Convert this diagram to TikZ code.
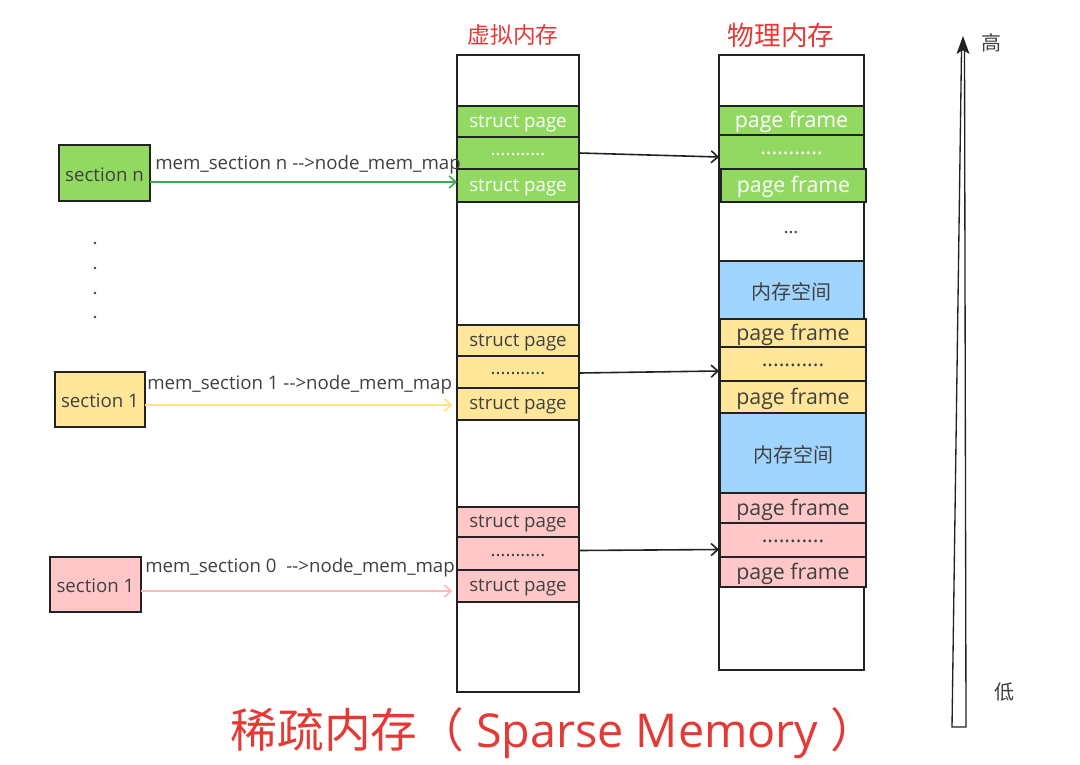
\documentclass[tikz,border=0pt]{standalone}
\usepackage{fontspec}
\setmainfont{Open Sans}
\newfontfamily\cjk{Noto Sans CJK SC}
\usetikzlibrary{arrows.meta,calc}
\definecolor{gfill}{RGB}{146,217,98}
\definecolor{yfill}{RGB}{255,230,153}
\definecolor{pfill}{RGB}{255,199,199}
\definecolor{bfill}{RGB}{160,213,255}
\definecolor{txt}{RGB}{64,64,64}
\definecolor{redt}{RGB}{229,57,53}
\definecolor{garrow}{RGB}{60,170,80}
\definecolor{yarrow}{RGB}{255,226,130}
\definecolor{parrow}{RGB}{255,185,185}
\definecolor{edge}{RGB}{34,34,34}
\tikzset{
  cell/.style={draw=edge, line width=1.3pt, inner sep=0pt, outer sep=0pt, anchor=north west, text=txt, font=\fontsize{14}{16}\selectfont},
  green/.style={fill=gfill, text=white},
  yellow/.style={fill=yfill},
  pink/.style={fill=pfill},
  blue/.style={fill=bfill, font=\cjk\fontsize{15}{18}\selectfont},
  empty/.style={fill=white},
  frame/.style={font=\fontsize{16}{18}\selectfont},
  lab/.style={anchor=west, inner sep=0pt, text=txt, font=\fontsize{14}{16}\selectfont},
  title/.style={text=redt, font=\cjk\fontsize{17}{20}\selectfont},
  maparrow/.style={line width=1.2pt, -{Straight Barb[length=5pt,width=9pt]}},
  blackarrow/.style={draw=edge, line width=1.2pt, -{Straight Barb[length=5pt,width=9pt]}},
  dotn/.style={circle, fill=txt, inner sep=0pt, minimum size=2.2pt}
}
\newcommand\cellbox[7]{\node[cell,#6,minimum width={#4*0.75pt},minimum height={#5*0.75pt}] (#1) at (#2,#3) {\raisebox{-1.2pt}[\height][\depth]{#7}};}
\begin{document}
\begin{tikzpicture}[x=0.75pt,y=-0.75pt]
\useasboundingbox (0,0) rectangle (1080,764);
\fill[white] (0,0) rectangle (1080,764);

% titles
\node[title] (vt) at (513,35) {虚拟内存};
\node[title, font=\cjk\fontsize{20}{22}\selectfont] (pt) at (781,35) {物理内存};

% virtual memory column
\cellbox{vcol}{457}{55}{122}{637}{empty}{}
\cellbox{vg1}{457}{106}{122}{31}{green}{struct page}
\cellbox{vg2}{457}{137}{122}{32}{green}{...........}
\cellbox{vg3}{457}{169}{122}{33}{green}{struct page}
\cellbox{vy1}{457}{325}{122}{31}{yellow}{struct page}
\cellbox{vy2}{457}{356}{122}{32}{yellow}{...........}
\cellbox{vy3}{457}{388}{122}{32}{yellow}{struct page}
\cellbox{vp1}{457}{507}{122}{30}{pink}{struct page}
\cellbox{vp2}{457}{537}{122}{33}{pink}{...........}
\cellbox{vp3}{457}{570}{122}{32}{pink}{struct page}

% physical memory column
\cellbox{pcol}{719}{55}{145}{615}{empty}{}
\cellbox{pg1}{719}{106}{145}{29}{green,frame}{page frame}
\cellbox{pg2}{719}{135}{145}{34}{green,frame}{...........}
\cellbox{pg3}{721}{169}{145}{33}{green,frame}{page frame}
\node[text=txt, font=\fontsize{14}{16}\selectfont] (pdots) at (791,233) {...};
\cellbox{pb1}{719}{261}{145}{58}{blue}{内存空间}
\cellbox{py1}{720}{319}{146}{28}{yellow,frame}{page frame}
\cellbox{py2}{720}{347}{146}{34}{yellow,frame}{...........}
\cellbox{py3}{720}{381}{146}{32}{yellow,frame}{page frame}
\cellbox{pb2}{720}{413}{146}{80}{blue}{内存空间}
\cellbox{pp1}{720}{493}{146}{30}{pink,frame}{page frame}
\cellbox{pp2}{720}{523}{146}{34}{pink,frame}{...........}
\cellbox{pp3}{720}{557}{146}{30}{pink,frame}{page frame}

% sections
\cellbox{secn}{59}{145}{91}{56}{fill=gfill}{section n}
\cellbox{secy}{55}{372}{90}{55}{yellow}{section 1}
\cellbox{secp}{50}{557}{91}{55}{pink}{section 1}

% vertical dots
\node[dotn] (d1) at (95,243) {};
\node[dotn] (d2) at (95,268) {};
\node[dotn] (d3) at (95,293) {};
\node[dotn] (d4) at (95,317) {};

% labels
\node[lab] (ln) at (155,165) {mem\_section n -{}->node\_mem\_map};
\node[lab] (ly) at (147,385) {mem\_section 1 -{}->node\_mem\_map};
\node[lab] (lp) at (145,568) {mem\_section 0 \ -{}->node\_mem\_map};

% section arrows
\coordinate (gs) at ($(secn.east)+(0,9)$);
\coordinate (ys) at ($(secy.east)+(0,5.5)$);
\coordinate (ps) at ($(secp.east)+(0,6.5)$);
\draw[maparrow, draw=garrow] (gs) -- (gs -| vg3.west);
\draw[maparrow, draw=yarrow, shorten >=3.5pt] (ys) -- (ys -| vy3.west);
\draw[maparrow, draw=parrow, shorten >=3.5pt] (ps) -- (ps -| vp3.west);

% mapping arrows
\coordinate (t1) at (vg2.east -| pcol.west);
\coordinate (t2) at (vy2.east -| pcol.west);
\coordinate (s3) at ($(vp2.east)+(0,-3)$);
\coordinate (t3) at (s3 -| pcol.west);
\draw[blackarrow] (vg2.east) -- ($(t1)+(0,4)$);
\draw[blackarrow] ($(vy2.east)+(0,1)$) -- ($(t2)+(0,-1)$);
\draw[blackarrow] (s3) -- ($(t3)+(0,-1)$);

% high-low arrow
\draw[edge, line width=1pt, fill=white] (952,727) -- (966,727) -- (964.5,50) -- (961.5,50) -- cycle;
\fill[edge] (956.5,54) -- (963,36) -- (969.5,54) -- (963,50) -- cycle;
\node[text=txt, font=\cjk\fontsize{15}{18}\selectfont] (hi) at (991,43) {高};
\node[text=txt, font=\cjk\fontsize{15}{18}\selectfont] (lo) at (1004,692) {低};

% bottom title
\node[text=redt, inner sep=0pt] (bt) at (554,733) {{\cjk\fontsize{35}{40}\selectfont 稀疏内存（}{\fontsize{35}{40}\selectfont\ Sparse Memory\ }{\cjk\fontsize{35}{40}\selectfont ）}};
\end{tikzpicture}
\end{document}
